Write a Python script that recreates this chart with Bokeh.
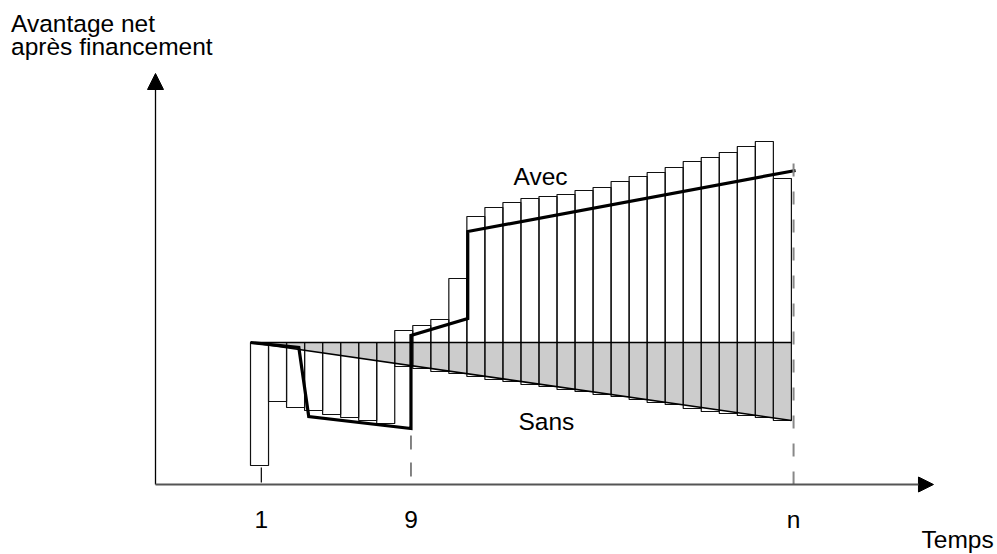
from bokeh.plotting import figure
from bokeh.models import Arrow, NormalHead, Range1d, ColumnDataSource
from bokeh.core.properties import value
from bokeh.embed import file_html
from bokeh.resources import INLINE

# ---- data (schematic values) ----
periods = list(range(1, 31))
bar_high = [0, 0, 0, 0, 0, 0, 0, 0,
            12, 17, 23, 64, 126, 135, 140, 144, 146, 148, 152, 155,
            161, 166, 170, 175, 181, 185, 190, 196, 201, 164]
bar_low = [-123, -59, -65, -68, -72, -75, -78, -81,
           -24, -26, -29, -31, -34, -37, -39, -42, -44, -47, -49, -52,
           -54, -57, -60, -62, -66, -69, -71, -73, -75, -78]

avec_x = [0.5, 3.18, 3.73, 9.4, 9.4, 12.55, 12.55, 30.73]
avec_y = [0, -5, -74, -86, 7, 24, 111, 172]

sans_x = [0.5, 30.5]
sans_y = [0, -78]

tick_pos = [1.1, 9.4, 30.62]
tick_labels = ["1", "9", "n"]

FONT = value("Liberation Sans")
FS = "24.5px"

p = figure(width=997, height=554,
           x_range=Range1d(-13.366, 41.931), y_range=Range1d(-212, 342),
           x_axis_type=None, y_axis_type=None,
           output_backend="svg", toolbar_location=None, min_border=0)
p.grid.visible = False
p.outline_line_color = None
p.background_fill_color = "white"

# grey area between zero line and the "Sans" line
p.patch(x=[sans_x[0], sans_x[1], sans_x[1]], y=[0, 0, sans_y[1]],
        fill_color="#cccccc", line_color=None)

# bars
src = ColumnDataSource(dict(left=[i - 0.5 for i in periods],
                            right=[i + 0.5 for i in periods],
                            top=bar_high, bottom=bar_low))
p.quad(left="left", right="right", top="top", bottom="bottom", source=src,
       fill_alpha=0, line_color="#111111", line_width=1.2)

# zero line and Sans line
p.line(x=[sans_x[0], sans_x[1]], y=[0, 0], line_color="black", line_width=1.3)
p.line(x=sans_x, y=sans_y, line_color="black", line_width=1.6)

# Avec line
p.line(x=avec_x, y=avec_y, line_color="black", line_width=3.2, line_join="miter")

# axes with arrow heads
ax_x0, ax_y0 = -4.769, -142
p.add_layout(Arrow(end=NormalHead(size=16, fill_color="black", line_color="black"),
                   x_start=ax_x0, y_start=ax_y0, x_end=ax_x0, y_end=269,
                   line_color="black", line_width=1.3))
p.add_layout(Arrow(end=NormalHead(size=15, fill_color="black", line_color="black"),
                   x_start=ax_x0, y_start=ax_y0, x_end=38.38, y_end=ax_y0,
                   line_color="#555555", line_width=1.8))

# tick marks / guide lines
p.line(x=[tick_pos[0], tick_pos[0]], y=[-125, -140], line_color="black", line_width=1.2)
p.line(x=[tick_pos[1], tick_pos[1]], y=[-93, -142], line_color="#777777",
       line_width=1.8, line_dash="14 13")
p.line(x=[tick_pos[2], tick_pos[2]], y=[179, -142], line_color="#888888",
       line_width=2, line_dash="13 15")

# tick labels
p.text(x=tick_pos, y=[-177, -177, -177], text=tick_labels, text_font=FONT,
       text_font_size=FS, text_align="center", text_baseline="alphabetic",
       text_color="black")

# other texts
p.text(x=[-12.78, -12.78], y=[319, 296], text=["Avantage net", "après financement"],
       text_font=FONT, text_font_size=FS, text_align="left",
       text_baseline="alphabetic", text_color="black")
p.text(x=[15.09, 15.36], y=[166, -79], text=["Avec", "Sans"],
       text_font=FONT, text_font_size=FS, text_align="left",
       text_baseline="alphabetic", text_color="black")
p.text(x=[37.72], y=[-197], text=["Temps"], text_font=FONT, text_font_size=FS,
       text_align="left", text_baseline="alphabetic", text_color="black")

open("out.html", "w").write(file_html(p, INLINE))
